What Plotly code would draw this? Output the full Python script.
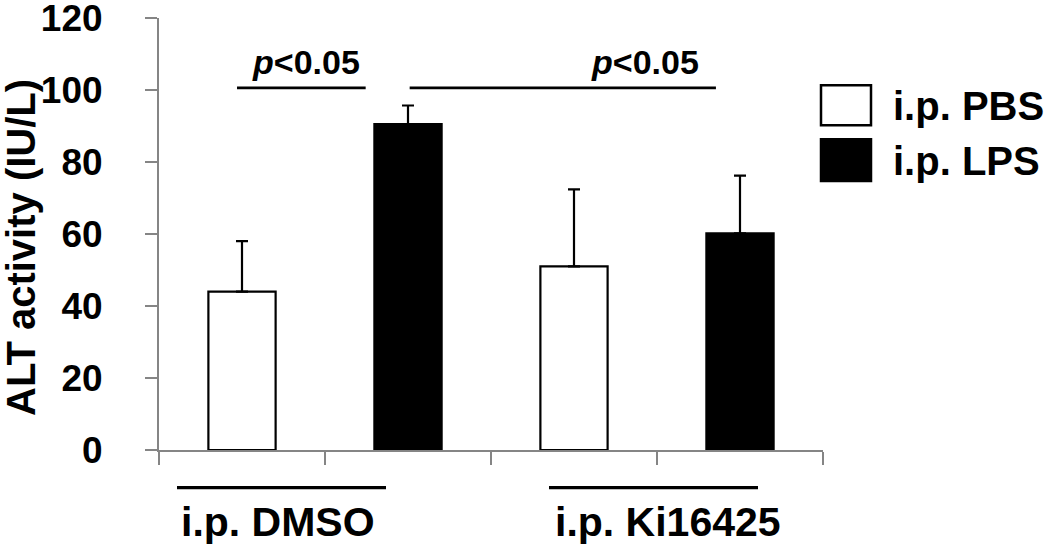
import plotly.graph_objects as go

# ---- data ----
groups = ["i.p. DMSO", "i.p. Ki16425"]
series = ["i.p. PBS", "i.p. LPS"]
pbs_values = [44.0, 51.0]
pbs_errors = [14.0, 21.4]
lps_values = [90.5, 60.2]
lps_errors = [5.2, 16.0]
y_ticks = [0, 20, 40, 60, 80, 100, 120]
y_title = "ALT activity (IU/L)"

# ---- layout geometry (screen pixels) ----
W, H = 1050, 549
X0S, X1S, Y0S, Y120S = 159, 823, 450.5, 17.5      # plot box in screen pixels
L, R, T, B = X0S, W - X1S, Y120S, H - Y0S
PW, PH = W - L - R, H - T - B

def px_x(px):
    return (px - L) / PW

def px_y(py):
    return (H - B - py) / PH

FONT = "Liberation Sans, Arial, sans-serif"
AXC = "#858585"

# bar positions: each group has PBS then LPS
pbs_x = [2 * i for i in range(len(groups))]
lps_x = [2 * i + 1 for i in range(len(groups))]
bw = 0.405

fig = go.Figure()
fig.add_trace(go.Bar(
    name=series[0], x=pbs_x, y=pbs_values, width=bw,
    marker=dict(color="white", line=dict(color="black", width=2.2)),
    error_y=dict(type="data", symmetric=False, array=pbs_errors,
                 arrayminus=[0] * len(pbs_errors), color="black", thickness=2.2, width=6),
    showlegend=False,
))
fig.add_trace(go.Bar(
    name=series[1], x=lps_x, y=lps_values, width=bw,
    marker=dict(color="black", line=dict(color="black", width=2.2)),
    error_y=dict(type="data", symmetric=False, array=lps_errors,
                 arrayminus=[0] * len(lps_errors), color="black", thickness=2.2, width=6),
    showlegend=False,
))

n = 2 * len(groups)
fig.update_layout(
    width=W, height=H,
    margin=dict(l=L, r=R, t=T, b=B, pad=0, autoexpand=False),
    paper_bgcolor="white", plot_bgcolor="white",
    barmode="overlay",
    font=dict(family=FONT, color="black"),
    xaxis=dict(range=[-0.5, n - 0.5], showgrid=False, zeroline=False, automargin=False,
               showline=True, linecolor=AXC, linewidth=2,
               tickmode="array", tickvals=[i - 0.5 for i in range(n + 1)],
               ticktext=[""] * (n + 1), showticklabels=False,
               ticks="outside", ticklen=13, tickwidth=2, tickcolor=AXC),
    yaxis=dict(range=[0, 120], showgrid=False, zeroline=False, automargin=False,
               showline=True, linecolor=AXC, linewidth=2,
               tickmode="array", tickvals=y_ticks,
               ticks="outside", ticklen=12, tickwidth=2, tickcolor=AXC,
               tickfont=dict(family=FONT, size=37, color="black", weight="bold"),
               ticklabelstandoff=35, ticklabeloverflow="allow"),
)

shapes = []
annotations = []

# y title
annotations.append(dict(text="<b>" + y_title + "</b>", xref="paper", yref="paper",
                        x=px_x(21), y=px_y(248), textangle=-90, showarrow=False,
                        xanchor="center", yanchor="middle",
                        font=dict(family=FONT, size=40, color="black")))

# significance brackets (x in bar-index units)
sig_y_line = 100.6
sig_y_text = 107.8
for x0, x1, xt in [(-0.03, 0.745, 0.385), (1.01, 2.855, 2.427)]:
    shapes.append(dict(type="line", xref="x", yref="y", x0=x0, x1=x1,
                       y0=sig_y_line, y1=sig_y_line, line=dict(color="black", width=2.6)))
    annotations.append(dict(text="<b><i>p</i>&lt;0.05</b>", xref="x", yref="y",
                            x=xt, y=sig_y_text, showarrow=False, xanchor="center", yanchor="middle",
                            font=dict(family=FONT, size=34, color="black")))

# group labels below axis
for (lx0, lx1, tx), g in zip([(177, 386, 278), (549, 758, 668)], groups):
    shapes.append(dict(type="line", xref="paper", yref="paper", x0=px_x(lx0), x1=px_x(lx1),
                       y0=px_y(488.3), y1=px_y(488.3), line=dict(color="black", width=3.2)))
    annotations.append(dict(text="<b>" + g + "</b>", xref="paper", yref="paper",
                            x=px_x(tx), y=px_y(523), showarrow=False,
                            xanchor="center", yanchor="middle",
                            font=dict(family=FONT, size=41, color="black")))

# custom legend
legend_rows = [(85, 125, "white"), (139, 181, "black")]
for (y0, y1, fillc), s in zip(legend_rows, series):
    shapes.append(dict(type="rect", xref="paper", yref="paper",
                       x0=px_x(821), x1=px_x(871), y0=px_y(y1), y1=px_y(y0),
                       fillcolor=fillc, line=dict(color="black", width=2.5)))
    annotations.append(dict(text="<b>" + s + "</b>", xref="paper", yref="paper",
                            x=px_x(891), y=px_y((y0 + y1) / 2 + 1), showarrow=False,
                            xanchor="left", yanchor="middle",
                            font=dict(family=FONT, size=40, color="black")))

fig.update_layout(shapes=shapes, annotations=annotations)
fig.write_html("out.html", config={"displayModeBar": False},
               post_script="document.body.style.margin='0';")
